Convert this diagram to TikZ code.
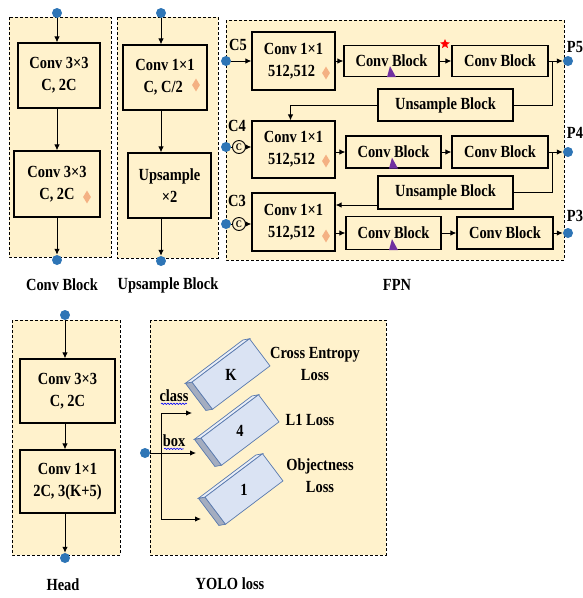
\documentclass[tikz,border=0pt]{standalone}
\usepackage{fontspec}
\setmainfont{Liberation Serif}[FakeStretch=0.85]
\usetikzlibrary{arrows.meta,shapes.geometric,decorations.pathmorphing}
\definecolor{panelbg}{HTML}{FFF2CC}
\definecolor{portblue}{HTML}{2E75B6}
\definecolor{markorange}{HTML}{F4B183}
\definecolor{markpurple}{HTML}{7030A0}
\definecolor{cubefront}{HTML}{DAE3F3}
\definecolor{cubetop}{HTML}{E9EEF8}
\definecolor{cubeside}{HTML}{A4ADC0}
\definecolor{cubeedge}{HTML}{5A7AAE}
\tikzset{
  panel/.style={
    draw,
    densely dashed,
    fill = panelbg,
    line width = 0.8pt
  },
  layer/.style={
    draw,
    fill = panelbg,
    line width = 1.2pt,
    align = center,
    inner sep = 0pt
  },
  port/.style={
    shape = circle,
    fill = portblue,
    inner sep = 0pt,
    minimum size = 10pt
  },
  concat/.style={
    shape = circle,
    draw,
    line width = 0.9pt,
    inner sep = 0pt,
    minimum size = 13pt,
    font = \bfseries\fontsize{10}{11}\selectfont
  },
  flow/.style={
    -{Latex[length=6pt,width=5.5pt]},
    line width = 1pt
  },
  bnmark/.style={
    shape = diamond,
    fill = markorange,
    inner sep = 0pt,
    minimum width = 8pt,
    minimum height = 13pt
  },
  spell/.style={
    draw = blue,
    line width = 0.6pt,
    decorate,
    decoration = {snake, amplitude=0.7pt, segment length=3pt}
  },
  every picture/.style = {
    font = \bfseries\fontsize{17}{22}\selectfont
  }
}

\begin{document}
\begin{tikzpicture}[x=1pt,y=-1pt]
  \useasboundingbox (0,0) rectangle (583,598);

  % Conv Block
  \draw[panel] (9,17) rectangle (111,257);
  \node[port] (cbin) at (57,13) {};
  \node[layer, minimum width=82pt, minimum height=65pt] (cb1) at (59,75.5) {Conv 3×3\\C, 2C};
  \node[layer, minimum width=86pt, minimum height=66pt] (cb2) at (57,184) {Conv 3×3\\C, 2C};
  \node[port] (cbout) at (57,260) {};
  \draw[flow] (cbin) -- (cbin |- cb1.north);
  \draw[flow] (cb1.south -| cbin) -- (cb2.north -| cbin);
  \draw[flow] (cb2.south -| cbin) -- (cbout);
  \node (lbcb) at (62,285) {Conv Block};

  % Upsample Block
  \draw[panel] (117,17) rectangle (218,258);
  \node[port] (ubin) at (161,13) {};
  \node[layer, minimum width=84pt, minimum height=65pt] (ub1) at (165,77.5) {Conv 1×1\\C, C/2\ \ };
  \node[layer, minimum width=83pt, minimum height=65pt] (ub2) at (169.5,185.5) {Upsample\\×2};
  \node[port] (ubout) at (161,261) {};
  \draw[flow] (ubin) -- (ubin |- ub1.north);
  \draw[flow] (ub1.south -| ubin) -- (ub2.north -| ubin);
  \draw[flow] (ub2.south -| ubin) -- (ubout);
  \node (lbub) at (168,285) {Upsample Block};

  % FPN
  \draw[panel] (226,20) rectangle (564,260);
  \node[port] (c5) at (226,61) {};
  \node[port] (c4) at (226,147) {};
  \node[port] (c3) at (226,224) {};
  \node[concat] (cc4) at (239,147) {C};
  \node[concat] (cc3) at (239,224) {C};
  \node[port] (p5) at (568,61) {};
  \node[port] (p4) at (568,152) {};
  \node[port] (p3) at (568,233) {};
  \node (lc5) at (238,45) {C5};
  \node (lc4) at (237,126) {C4};
  \node (lc3) at (237,201) {C3};
  \node (lp5) at (575,47) {P5};
  \node (lp4) at (575,133) {P4};
  \node (lp3) at (575,216) {P3};
  \node[layer, minimum width=83pt, minimum height=58pt] (l5) at (293.5,61) {Conv 1×1\\512,512\ \ };
  \node[layer, minimum width=83pt, minimum height=57pt] (l4) at (293.5,149.5) {Conv 1×1\\512,512\ \ };
  \node[layer, minimum width=83pt, minimum height=58pt] (l3) at (293.5,222) {Conv 1×1\\512,512\ \ };
  \node[layer, minimum width=95pt, minimum height=31pt] (a5) at (391.5,61) {Conv Block};
  \node[layer, minimum width=96pt, minimum height=31pt] (b5) at (500,61) {Conv Block};
  \node[layer, minimum width=95pt, minimum height=32pt] (a4) at (393.5,152) {Conv Block};
  \node[layer, minimum width=96pt, minimum height=32pt] (b4) at (500,152) {Conv Block};
  \node[layer, minimum width=95pt, minimum height=33pt] (a3) at (393.5,233) {Conv Block};
  \node[layer, minimum width=96pt, minimum height=32pt] (b3) at (505,233) {Conv Block};
  \node[layer, minimum width=135pt, minimum height=32pt] (up5) at (445.5,105) {Unsample Block};
  \node[layer, minimum width=135pt, minimum height=33pt] (up4) at (445.5,192.5) {Unsample Block};
  \coordinate (j5) at (552,61);
  \coordinate (j4) at (552,152);
  \coordinate (u4out) at (378,205);
  \draw[flow] (c5) -- (l5);
  \draw[line width=1pt] (c4) -- (cc4);
  \draw[line width=1pt] (c3) -- (cc3);
  \draw[flow] (cc4) -- (cc4 -| l4.west);
  \draw[flow] (cc3) -- (cc3 -| l3.west);
  \draw[flow] (l5) -- (a5);
  \draw[flow] (l4.east |- a4) -- (a4);
  \draw[flow] (l3.east |- a3) -- (a3);
  \foreach \a/\b/\p in {a5/b5/p5, a4/b4/p4, a3/b3/p3}{
    \draw[flow] (\a) -- (\b);
    \draw[flow] (\b) -- (\p);
  }
  \draw[line width=1pt] (up5.east) -| (j5);
  \draw[line width=1pt] (up4.east) -| (j4);
  \draw[flow] (up5.west) -| ([xshift=-3pt]l4.north);
  \draw[flow] (u4out) -- (l3.east |- u4out);
  \node (lbfpn) at (397,285) {FPN};

  % marks
  \foreach \p [count=\i] in {(87,197),(196,85),(326,73),(326,161),(326,236)}
    \node[bnmark] (bn\i) at \p {};
  \foreach \n in {a5,a4,a3}
    \fill[markpurple] ([xshift=-4.5pt]\n.south) -- ([xshift=-1.5pt,yshift=11pt]\n.south) -- ([xshift=4.5pt]\n.south) -- cycle;
  \node[star, star points=5, star point ratio=2.2, fill=red, inner sep=0pt, minimum size=10pt] (st5) at (445,44) {};

  % Head
  \draw[panel] (12,320) rectangle (120,555);
  \node[port] (hin) at (65,315) {};
  \node[layer, minimum width=95pt, minimum height=64pt] (h1) at (67.5,391) {Conv 3×3\\C, 2C};
  \node[layer, minimum width=95pt, minimum height=63pt] (h2) at (67.5,481.5) {Conv 1×1\\2C, 3(K+5)};
  \node[port] (hout) at (65,558) {};
  \draw[flow] (hin) -- (hin |- h1.north);
  \draw[flow] (h1.south -| hin) -- (h2.north -| hin);
  \draw[flow] (h2.south -| hin) -- (hout);
  \node (lbhead) at (63,585) {Head};

  % YOLO loss
  \draw[panel] (150,320) rectangle (386,555);
  \foreach \cx/\cy/\txt [count=\i] in {228/375/K, 237/431/4, 241/490/1}{
    \begin{scope}[shift={(\cx,\cy)}, rotate=37]
      \filldraw[draw=cubeedge, fill=cubeside, line width=0.7pt] (-33,-16) -- (-39,-19) -- (-39,15) -- (-33,18) -- cycle;
      \filldraw[draw=cubeedge, fill=cubetop, line width=0.7pt] (-33,-16) -- (-39,-19) -- (33,-19) -- (39,-16) -- cycle;
      \filldraw[draw=cubeedge, fill=cubefront, line width=0.7pt] (-33,-16) rectangle (39,18);
    \end{scope}
    \node (loss\i) at (\cx+3,\cy) {\txt};
  }
  \node[port] (yin) at (145,453) {};
  \coordinate (st) at (161,413);
  \coordinate (sb) at (161,519);
  \coordinate (tc) at (192,413);
  \coordinate (tb) at (196,453);
  \coordinate (to) at (201,519);
  \draw[line width=1pt] (st) -- (sb);
  \draw[flow] (st) -- (tc);
  \draw[flow] (yin) -- (tb);
  \draw[flow] (sb) -- (to);
  \node (cls) at (174,396) {class};
  \node (bx) at (174,441) {box};
  \draw[spell] ([xshift=5pt,yshift=-2pt]cls.base west) -- ([xshift=-5pt,yshift=-2pt]cls.base east);
  \draw[spell] ([xshift=5pt,yshift=-2pt]bx.base west) -- ([xshift=-5pt,yshift=-2pt]bx.base east);
  \node[align=center] (lce) at (315,364) {Cross Entropy\\Loss};
  \node (ll1) at (310,420) {L1 Loss};
  \node[align=center] (lobj) at (320,476) {Objectness\\Loss};
  \node (lbyolo) at (230,584) {YOLO loss};
\end{tikzpicture}
\end{document}
